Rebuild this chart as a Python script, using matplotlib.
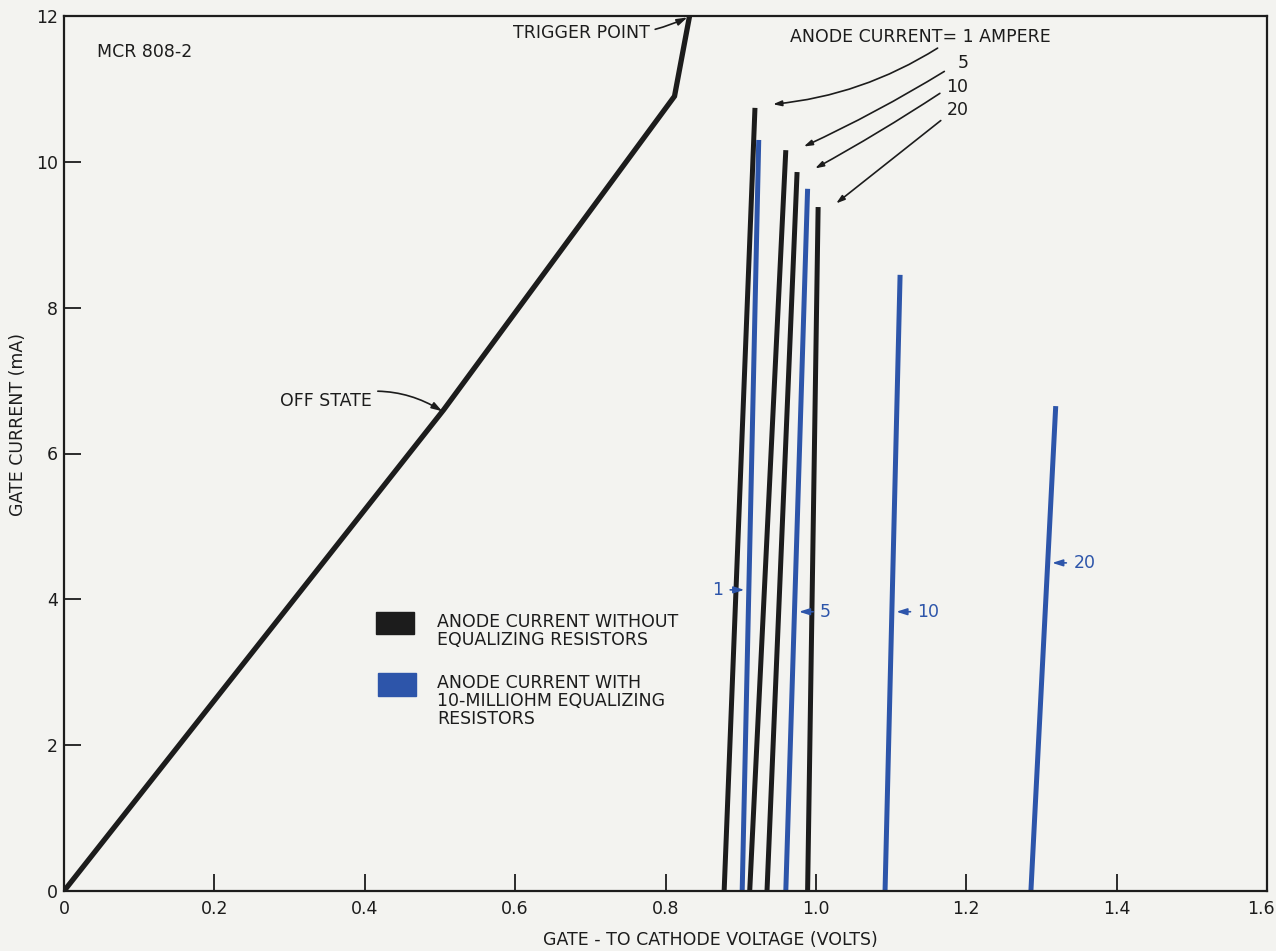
import matplotlib
matplotlib.use("Agg")
import matplotlib.pyplot as plt
from matplotlib import font_manager
from matplotlib.transforms import ScaledTranslation

# chart data
x_ticks = [0, 0.2, 0.4, 0.6, 0.8, 1.0, 1.2, 1.4, 1.6]
x_tick_labels = ["0", "0.2", "0.4", "0.6", "0.8", "1.0", "1.2", "1.4", "1.6"]
y_ticks = [0, 2, 4, 6, 8, 10, 12]
y_tick_labels = ["0", "2", "4", "6", "8", "10", "12"]

# off-state curve up to the trigger point
off_volts = [0, 0.505, 0.812, 0.832]
off_ma = [0, 6.6, 10.9, 12.0]

# anode current levels (A)
anode_amps = ["1", "5", "10", "20"]

# without equalizing resistors (black): voltage at 0 mA, voltage at top, top current
black_v_bottom = [0.878, 0.912, 0.935, 0.989]
black_v_top = [0.919, 0.960, 0.975, 1.003]
black_ma_top = [10.74, 10.16, 9.86, 9.38]

# with 10-milliohm equalizing resistors (blue)
blue_v_bottom = [0.902, 0.960, 1.092, 1.286]
blue_v_top = [0.924, 0.989, 1.112, 1.319]
blue_ma_top = [10.30, 9.63, 8.45, 6.65]

BG = "#f3f3f0"
INK = "#1c1c1c"
BLUE = "#2d55aa"

# narrow lettering if available, otherwise plain DejaVu
installed = {f.name for f in font_manager.fontManager.ttflist}
if "Liberation Sans Narrow" in installed:
    plt.rcParams["font.family"] = ["Liberation Sans Narrow", "DejaVu Sans"]
    plt.rcParams["font.weight"] = "bold"
    FS = 15
else:
    plt.rcParams["font.family"] = ["DejaVu Sans"]
    FS = 12.5

fig = plt.figure(figsize=(12.76, 9.51), dpi=100, facecolor=BG)
ax = fig.add_axes([64 / 1276, 60 / 951, (1267 - 64) / 1276, (891 - 16) / 951])
ax.set_facecolor(BG)

ax.plot(off_volts, off_ma, color=INK, lw=3.8, solid_capstyle="butt", solid_joinstyle="miter")

for v0, v1, top in zip(black_v_bottom, black_v_top, black_ma_top):
    ax.plot([v0, v1], [0, top], color=INK, lw=3.6, solid_capstyle="butt")
for v0, v1, top in zip(blue_v_bottom, blue_v_top, blue_ma_top):
    ax.plot([v0, v1], [0, top], color=BLUE, lw=3.6, solid_capstyle="butt")

ax.set_xlim(0, 1.6)
ax.set_ylim(0, 12)
ax.set_xticks(x_ticks)
ax.set_xticklabels(x_tick_labels)
ax.set_yticks(y_ticks)
ax.set_yticklabels(y_tick_labels)
ax.tick_params(axis="x", direction="in", length=12, width=1.3, pad=6.5, labelsize=FS, colors=INK)
ax.tick_params(axis="y", direction="in", length=12, width=1.3, pad=4.5, labelsize=FS, colors=INK)
for s in ax.spines.values():
    s.set_linewidth(1.6)
    s.set_color(INK)

# keep the last x label inside the figure
last = ax.get_xticklabels()[-1]
last.set_transform(last.get_transform() + ScaledTranslation(-6 / 100, 0, fig.dpi_scale_trans))

fig.text(710 / 1276, 1 - 940 / 951, "GATE - TO CATHODE VOLTAGE (VOLTS)", ha="center", va="center",
         fontsize=FS, color=INK)
fig.text(18 / 1276, 1 - 425 / 951, "GATE CURRENT (mA)", ha="center", va="center", rotation=90,
         fontsize=FS, color=INK)

ax.text(0.044, 11.51, "MCR 808-2", ha="left", va="center", fontsize=FS, color=INK)

arrow = dict(arrowstyle="-|>,head_length=0.5,head_width=0.16", color=INK, lw=1.2, shrinkA=2, shrinkB=0)

ax.annotate("TRIGGER POINT", xy=(0.829, 11.98), xytext=(0.779, 11.76), ha="right", va="center",
            fontsize=FS, color=INK, arrowprops=dict(arrow, connectionstyle="arc3,rad=0.15"))
ax.annotate("OFF STATE", xy=(0.503, 6.58), xytext=(0.41, 6.72), ha="right", va="center",
            fontsize=FS, color=INK, arrowprops=dict(arrow, connectionstyle="arc3,rad=-0.25"))

# anode current leaders for the black curves
ax.text(0.965, 11.71, "ANODE CURRENT= 1 AMPERE", ha="left", va="center", fontsize=FS, color=INK)
label_y = [None, 11.36, 11.03, 10.71]
leader_start = [(1.165, 11.58), (1.174, 11.26), (1.168, 10.96), (1.169, 10.59)]
leader_rad = [-0.12, -0.03, -0.02, 0.0]
for i, amp in enumerate(anode_amps):
    if label_y[i] is not None:
        ax.text(1.203, label_y[i], amp, ha="right", va="center", fontsize=FS, color=INK)
    tip = (black_v_top[i] + 0.024, black_ma_top[i] + 0.05)
    ax.annotate("", xy=tip, xytext=leader_start[i],
                arrowprops=dict(arrow, connectionstyle="arc3,rad=%s" % leader_rad[i]))

# blue labels with short arrows
blue_label_ma = [4.13, 3.83, 3.83, 4.5]
for i, amp in enumerate(anode_amps):
    yy = blue_label_ma[i]
    xx = blue_v_bottom[i] + (blue_v_top[i] - blue_v_bottom[i]) * yy / blue_ma_top[i]
    if i == 0:
        ax.annotate(amp, xy=(xx - 0.006, yy), xytext=(xx - 0.034, yy), ha="right", va="center",
                    fontsize=FS, color=BLUE,
                    arrowprops=dict(arrow, color=BLUE, shrinkA=3))
    else:
        ax.annotate(amp, xy=(xx + 0.006, yy), xytext=(xx + 0.034, yy), ha="left", va="center",
                    fontsize=FS, color=BLUE,
                    arrowprops=dict(arrow, color=BLUE, shrinkA=3))

# legend drawn as patches with text
ax.add_patch(plt.Rectangle((0.415, 3.53), 0.05, 0.29, color=INK))
ax.add_patch(plt.Rectangle((0.418, 2.68), 0.05, 0.31, color=BLUE))
ax.text(0.496, 3.56, "ANODE CURRENT WITHOUT\nEQUALIZING RESISTORS", ha="left", va="center",
        fontsize=FS, color=INK, linespacing=1.0)
ax.text(0.496, 2.60, "ANODE CURRENT WITH\n10-MILLIOHM EQUALIZING\nRESISTORS", ha="left", va="center",
        fontsize=FS, color=INK, linespacing=1.0)

fig.savefig("out.png", dpi=100, facecolor=BG)
